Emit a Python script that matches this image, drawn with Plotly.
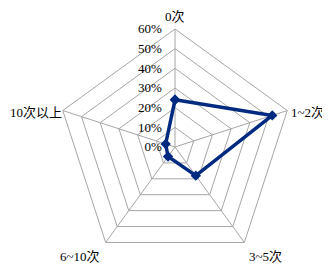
import plotly.graph_objects as go

categories = ["0次", "1~2次", "3~5次", "6~10次", "10次以上"]
values = [24, 52, 18, 6, 5]
tick_vals = [0, 10, 20, 30, 40, 50, 60]
tick_text = ["0%", "10%", "20%", "30%", "40%", "50%", "60%"]

# page body has an 8px default margin: size the figure to fit the window
OFF = 8
W, H = 330 - OFF, 269 - OFF
cx, cy, R = 175 - OFF, 147 - OFF, 118
FONT = "'Liberation Serif', 'Noto Sans CJK SC', serif"

fig = go.Figure()
fig.add_trace(go.Scatterpolar(
    r=values + [values[0]],
    theta=categories + [categories[0]],
    mode="lines+markers",
    line=dict(color="#002a80", width=3.5),
    marker=dict(symbol="diamond", size=8, color="#002a80"),
    showlegend=False,
))

# category labels placed like the reference (text taken from `categories`)
label_pos = [
    (175, 8, "center", "top"),
    (290, 112, "left", "middle"),
    (265, 257, "center", "middle"),
    (80, 257, "center", "middle"),
    (63, 112, "right", "middle"),
]
for name, (px, py, xa, ya) in zip(categories, label_pos):
    fig.add_annotation(
        x=(px - OFF) / W, y=1 - (py - OFF) / H, xref="paper", yref="paper",
        text=name, showarrow=False, xanchor=xa, yanchor=ya, borderpad=0,
        font=dict(family=FONT, size=13, color="#000000"),
    )

fig.update_layout(
    width=W, height=H,
    margin=dict(l=0, r=0, t=0, b=0),
    paper_bgcolor="white",
    font=dict(family=FONT, size=13, color="#000000"),
    polar=dict(
        domain=dict(x=[(cx - R) / W, (cx + R) / W], y=[1 - (cy + R) / H, 1 - (cy - R) / H]),
        bgcolor="white",
        gridshape="linear",
        angularaxis=dict(
            rotation=90, direction="clockwise",
            showline=True, linecolor="#a6a6a6", linewidth=1,
            gridcolor="#a6a6a6", gridwidth=1,
            ticks="", showticklabels=False,
        ),
        radialaxis=dict(
            range=[0, 60], tickvals=tick_vals, ticktext=tick_text,
            angle=90, tickangle=90, side="counterclockwise",
            showline=False, gridcolor="#a6a6a6", gridwidth=1,
            ticks="outside", ticklen=8, tickcolor="rgba(0,0,0,0)",
            tickfont=dict(size=13),
        ),
    ),
)
fig.write_html("out.html")
